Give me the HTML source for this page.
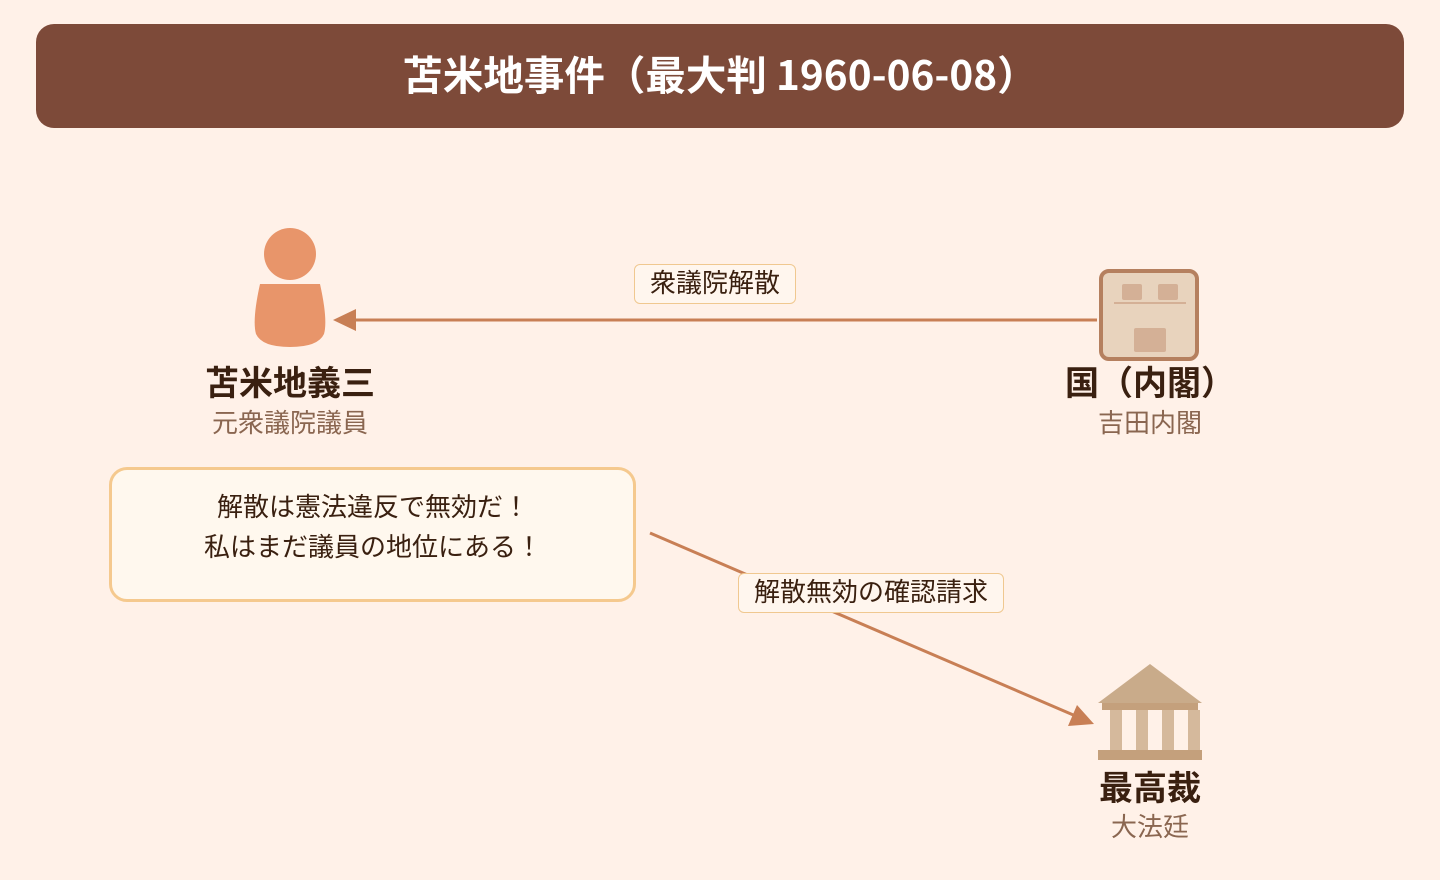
<!DOCTYPE html>
<html><head><meta charset="utf-8"><style>
body{margin:0;width:1440px;height:880px;background:#fff1e8;font-family:"Noto Sans CJK JP","Liberation Sans",sans-serif;position:relative;overflow:hidden}
.t{position:absolute;white-space:nowrap;text-align:center}
</style></head><body>
<div style="position:absolute;left:36px;top:24px;width:1368px;height:104px;background:#7d4a39;border-radius:18px"></div>
<div class="t" style="left:36px;width:1368px;top:45px;font-size:40.5px;font-weight:bold;color:#fff;line-height:56px">苫米地事件（最大判 1960-06-08）</div>
<svg width="1440" height="880" style="position:absolute;left:0;top:0">
<circle cx="290" cy="254" r="26" fill="#e8956a"/>
<path d="M260 284 H320 Q328 320 324 334 Q318 347 290 347 Q262 347 256 334 Q252 320 260 284Z" fill="#e8956a"/>
<line x1="1097" y1="320" x2="350" y2="320" stroke="#c87f55" stroke-width="3"/>
<polygon points="333,320 356,309 356,331" fill="#c87f55"/>
<rect x="1101" y="271" width="96" height="88" rx="8" fill="#e8d3bd" stroke="#b5805f" stroke-width="4"/>
<rect x="1122" y="284" width="20" height="16" rx="2" fill="#d4b096"/>
<rect x="1158" y="284" width="20" height="16" rx="2" fill="#d4b096"/>
<line x1="1114" y1="303" x2="1186" y2="303" stroke="#d4b096" stroke-width="2"/>
<rect x="1134" y="328" width="32" height="24" rx="2" fill="#d4b096"/>
<line x1="650" y1="533" x2="1078" y2="717" stroke="#c87f55" stroke-width="3"/>
<polygon points="1094,724 1068,726 1077,705" fill="#c87f55"/>
<polygon points="1150,664 1098,703 1202,703" fill="#c9ab8a"/>
<rect x="1102" y="703" width="96" height="7" fill="#c4a07c"/>
<rect x="1110" y="710" width="12" height="40" fill="#d5b99c"/>
<rect x="1136" y="710" width="12" height="40" fill="#d5b99c"/>
<rect x="1162" y="710" width="12" height="40" fill="#d5b99c"/>
<rect x="1188" y="710" width="12" height="40" fill="#d5b99c"/>
<rect x="1098" y="750" width="104" height="10" fill="#c4a07c"/>
</svg>
<div style="position:absolute;left:634px;top:264px;width:160px;height:38px;border:1.5px solid #f0c890;background:#fff6ee;border-radius:6px"></div>
<div class="t" style="left:634px;width:162px;top:264px;font-size:26px;line-height:36px;color:#3a2010">衆議院解散</div>
<div style="position:absolute;left:738px;top:573px;width:264px;height:38px;border:1.5px solid #f0c890;background:#fff6ee;border-radius:6px"></div>
<div class="t" style="left:738px;width:266px;top:573px;font-size:26px;line-height:36px;color:#3a2010">解散無効の確認請求</div>
<div style="position:absolute;left:109px;top:467px;width:521px;height:129px;border:3px solid #f5c98e;background:#fff8ee;border-radius:18px"></div>
<div class="t" style="left:110px;width:526px;top:486px;font-size:26px;line-height:40px;color:#3a2010">解散は憲法違反で無効だ！<br>私はまだ議員の地位にある！</div>
<div class="t" style="left:140px;width:300px;top:357px;font-size:34px;font-weight:bold;color:#3a2010;line-height:48px">苫米地義三</div>
<div class="t" style="left:140px;width:300px;top:404px;font-size:26px;color:#8a6650;line-height:36px">元衆議院議員</div>
<div class="t" style="left:1000px;width:300px;top:357px;font-size:34px;font-weight:bold;color:#3a2010;line-height:48px">国（内閣）</div>
<div class="t" style="left:1000px;width:300px;top:404px;font-size:26px;color:#8a6650;line-height:36px">吉田内閣</div>
<div class="t" style="left:1000px;width:300px;top:762px;font-size:34px;font-weight:bold;color:#3a2010;line-height:48px">最高裁</div>
<div class="t" style="left:1000px;width:300px;top:808px;font-size:26px;color:#8a6650;line-height:36px">大法廷</div>
</body></html>
